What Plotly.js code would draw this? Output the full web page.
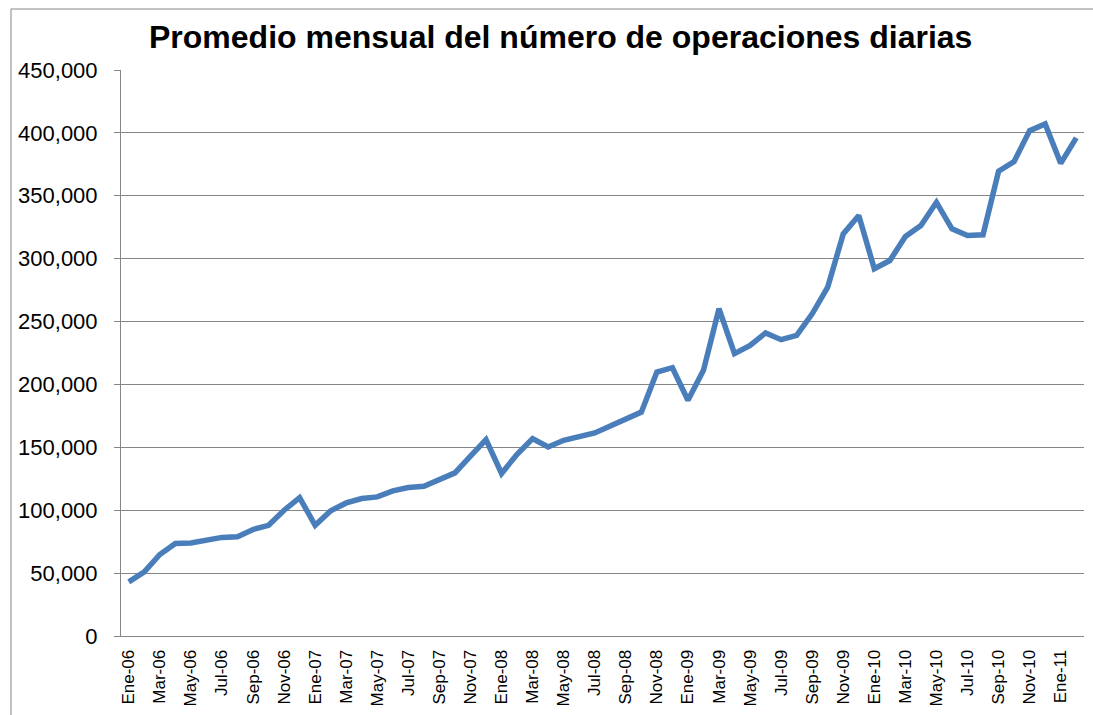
<!DOCTYPE html>
<html>
<head>
<meta charset="utf-8">
<script src="https://cdn.plot.ly/plotly-3.0.1.min.js"></script>
<style>
  html, body { margin: 0; padding: 0; background: #ffffff; overflow: hidden; }
  #chart { width: 1093px; height: 715px; }
</style>
</head>
<body>
<div id="chart"></div>
<script>
// Months (categories), Ene-06 .. Feb-11
const categories = [
  'Ene-06','Feb-06','Mar-06','Abr-06','May-06','Jun-06','Jul-06','Ago-06','Sep-06','Oct-06','Nov-06','Dic-06',
  'Ene-07','Feb-07','Mar-07','Abr-07','May-07','Jun-07','Jul-07','Ago-07','Sep-07','Oct-07','Nov-07','Dic-07',
  'Ene-08','Feb-08','Mar-08','Abr-08','May-08','Jun-08','Jul-08','Ago-08','Sep-08','Oct-08','Nov-08','Dic-08',
  'Ene-09','Feb-09','Mar-09','Abr-09','May-09','Jun-09','Jul-09','Ago-09','Sep-09','Oct-09','Nov-09','Dic-09',
  'Ene-10','Feb-10','Mar-10','Abr-10','May-10','Jun-10','Jul-10','Ago-10','Sep-10','Oct-10','Nov-10','Dic-10',
  'Ene-11','Feb-11'
];

// Monthly average of daily operations
const operaciones = [
  43000, 51000, 64800, 73600, 74000, 76000, 78400, 78900, 84700, 88000, 100000, 110000,
  88000, 99500, 105800, 109300, 110600, 115400, 118000, 119000, 124000, 129700, 143000, 156200,
  129200, 144500, 157000, 150300, 155600, 158200, 161400, 167000, 172800, 178000, 209900, 213300,
  187400, 211200, 260200, 224500, 231000, 241000, 235600, 239000, 256200, 277400, 319700, 334300,
  292000, 298500, 317600, 326300, 344800, 323700, 318400, 319000, 369500, 377200, 401800, 407100,
  375800, 396000
];

// Tick labels shown (every second month)
const tickLabels = [
  'Ene-06','Mar-06','May-06','Jul-06','Sep-06','Nov-06',
  'Ene-07','Mar-07','May-07','Jul-07','Sep-07','Nov-07',
  'Ene-08','Mar-08','May-08','Jul-08','Sep-08','Nov-08',
  'Ene-09','Mar-09','May-09','Jul-09','Sep-09','Nov-09',
  'Ene-10','Mar-10','May-10','Jul-10','Sep-10','Nov-10',
  'Ene-11'
];

const yTicks = [0, 50000, 100000, 150000, 200000, 250000, 300000, 350000, 400000, 450000];

// category boundaries for tick marks (every second category)
const boundaryTicks = [];
for (let k = 0; k <= categories.length; k += 2) boundaryTicks.push(k - 0.5);

const gray = '#868686';

const trace = {
  x: categories,
  y: operaciones,
  type: 'scatter',
  mode: 'lines',
  line: { color: '#4a7ebb', width: 5.5, shape: 'linear' },
  hoverinfo: 'x+y',
  showlegend: false
};

const layout = {
  width: 1093,
  height: 715,
  paper_bgcolor: '#ffffff',
  plot_bgcolor: '#ffffff',
  margin: { l: 121, r: 9, t: 70, b: 79, pad: 0 },
  font: { family: 'Liberation Sans, Arial, sans-serif', color: '#000000' },
  title: {
    text: '<b>Promedio mensual del número de operaciones diarias</b>',
    font: { family: 'Liberation Sans, Arial, sans-serif', size: 32, color: '#000000' },
    xref: 'container', yref: 'container',
    x: 0.513, xanchor: 'center',
    y: 0.948, yanchor: 'middle'
  },
  xaxis: {
    type: 'category',
    range: [-0.5, categories.length - 0.5],
    tickmode: 'array',
    tickvals: tickLabels,
    ticktext: tickLabels,
    tickangle: -90,
    ticks: '',
    ticklabelstandoff: 6,
    tickfont: { family: 'Liberation Sans, Arial, sans-serif', size: 17, color: '#000000' },
    showgrid: false,
    showline: true,
    linecolor: gray,
    linewidth: 1,
    zeroline: false,
    fixedrange: true
  },
  xaxis2: {
    type: 'linear',
    overlaying: 'x',
    anchor: 'y',
    side: 'bottom',
    range: [-0.5, categories.length - 0.5],
    tickmode: 'array',
    tickvals: boundaryTicks,
    ticks: 'outside',
    ticklen: 6,
    tickcolor: gray,
    tickwidth: 1,
    showticklabels: false,
    showgrid: false,
    showline: false,
    zeroline: false,
    fixedrange: true
  },
  yaxis: {
    range: [0, 450000],
    tickmode: 'array',
    tickvals: yTicks,
    tickformat: ',d',
    ticks: 'outside',
    ticklen: 6,
    tickcolor: gray,
    ticklabelstandoff: 12,
    tickfont: { family: 'Liberation Sans, Arial, sans-serif', size: 22, color: '#000000' },
    showgrid: true,
    gridcolor: gray,
    gridwidth: 1,
    showline: true,
    linecolor: gray,
    linewidth: 1,
    zeroline: false,
    fixedrange: true
  },
  shapes: [
    {
      type: 'rect',
      xref: 'paper', yref: 'paper',
      x0: (11 - 121) / 963, x1: (1110 - 121) / 963,
      y0: (636 - 730) / 566, y1: 1 + (70 - 9) / 566,
      line: { color: gray, width: 1 },
      fillcolor: 'rgba(0,0,0,0)',
      layer: 'below'
    }
  ]
};

Plotly.newPlot('chart', [trace], layout, { displayModeBar: false, staticPlot: true });
</script>
</body>
</html>
